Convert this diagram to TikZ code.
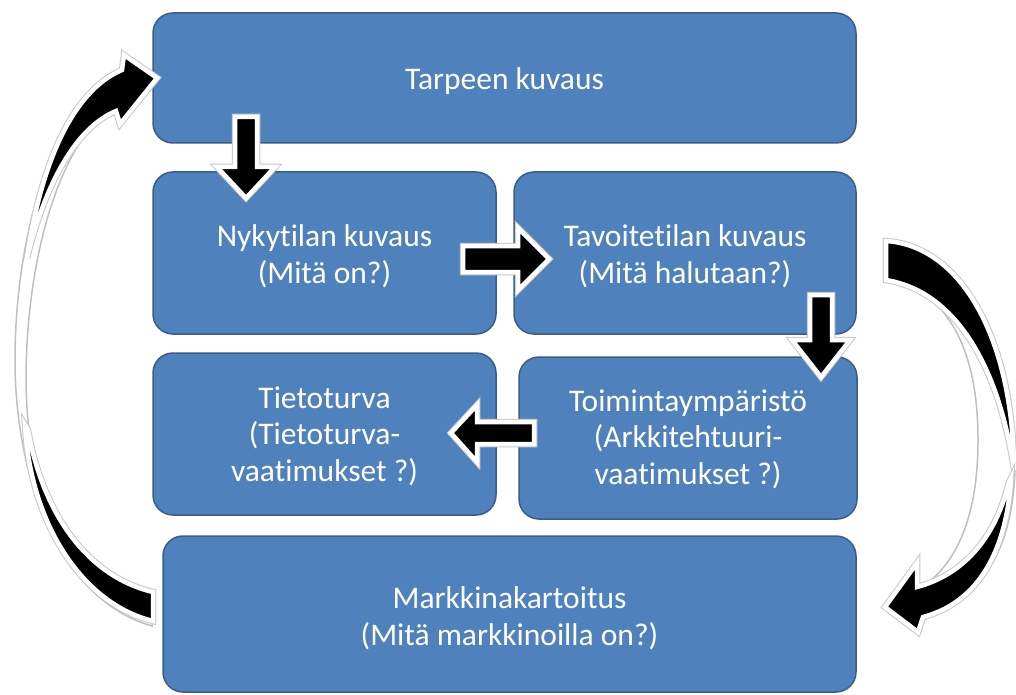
\documentclass[tikz,border=0pt]{standalone}
\usepackage{fontspec}
\setmainfont{Carlito}[Ligatures={NoCommon,NoContextual}]
\definecolor{boxblue}{HTML}{4F81BD}
\definecolor{boxedge}{HTML}{385D8A}
\begin{document}
\begin{tikzpicture}[x=1pt,y=-1pt,
  box/.style={draw=boxedge, line width=1.5pt, fill=boxblue, rounded corners=20pt, inner sep=0pt},
  txt/.style={text=white, font=\fontsize{31.5}{36.5}\selectfont, align=center, inner sep=0pt},
  blk/.style={fill=black, draw=white, line width=4.5pt, line join=miter,
    preaction={draw=black!22, line width=6.5pt}},
  backband/.style={fill=white, draw=black!25, line width=1.5pt}]
\useasboundingbox (0,0) rectangle (1016,695);

% boxes
\node[box, minimum width=703pt, minimum height=130pt] (tarpeen) at (504.5,78) {};
\node[box, minimum width=343pt, minimum height=162pt] (nyky) at (324.5,253) {};
\node[box, minimum width=342pt, minimum height=162pt] (tavoite) at (685,253) {};
\node[box, minimum width=343pt, minimum height=162pt] (tieto) at (324.5,434) {};
\node[box, minimum width=338pt, minimum height=162pt] (toiminta) at (688,438) {};
\node[box, minimum width=693pt, minimum height=156pt] (markkina) at (509.5,614) {};

% texts
\node[txt] (t1) at ([yshift=-3pt]tarpeen.center) {Tarpeen kuvaus};
\node[txt] (t2) at ([yshift=-3pt]nyky.center) {Nykytilan kuvaus\\(Mitä on?)};
\node[txt] (t3) at ([yshift=-3pt]tavoite.center) {Tavoitetilan kuvaus\\(Mitä halutaan?)};
\node[txt] (t4) at ([yshift=-2pt]tieto.center) {Tietoturva\\(Tietoturva-\\vaatimukset ?)};
\node[txt] (t5) at ([yshift=-1pt]toiminta.center) {Toimintaympäristö\\(Arkkitehtuuri-\\vaatimukset ?)};
\node[txt] (t6) at ([yshift=-4pt]markkina.center) {Markkinakartoitus\\(Mitä markkinoilla on?)};

% straight block arrows
\draw[blk] (235,117) -- (257,117) -- (257,167) -- (275,167) -- (246,198) -- (217,167) -- (235,167) -- cycle;
\draw[blk] (463,246) -- (518,246) -- (518,228) -- (549,259) -- (518,290) -- (518,272) -- (463,272) -- cycle;
\draw[blk] (810,295) -- (832,295) -- (832,340) -- (850,340) -- (821,377) -- (792,340) -- (810,340) -- cycle;
\draw[blk] (534,422) -- (477,422) -- (477,405) -- (451,433) -- (477,462) -- (477,444) -- (534,444) -- cycle;

% left curved arrow (bottom box -> top box)
\draw[backband] (110,74) .. controls (40,130) and (15,260) .. (15,360)
  .. controls (15,480) and (60,600) .. (152,626) -- (152,615)
  .. controls (70,595) and (27,500) .. (26,380)
  .. controls (26,280) and (50,150) .. (118,100) -- cycle;
\draw[blk] (122,70) .. controls (70,92) and (40,170) .. (27,258)
  .. controls (45,185) and (75,128) .. (116,111) -- (120,124) -- (157,78) -- (124,55) -- cycle;
\draw[blk] (25,425) .. controls (30,520) and (80,603) .. (153,621) -- (153,592)
  .. controls (85,576) and (42,510) .. (28,430) -- cycle;

% right curved arrow (top right -> bottom box)
\draw[backband] (887,278) .. controls (960,295) and (978,370) .. (978,440)
  .. controls (978,510) and (960,565) .. (917,590) -- (922,618)
  .. controls (975,600) and (1012,560) .. (1015,470)
  .. controls (1016,360) and (970,250) .. (887,240) -- cycle;
\draw[blk] (886,241) .. controls (962,246) and (1013,340) .. (1014,470)
  .. controls (1002,385) and (965,293) .. (886,280) -- cycle;
\draw[blk] (1011,478) .. controls (1006,560) and (972,604) .. (923,617) -- (918,632)
  -- (885,607) -- (917,563) -- (917,587) .. controls (962,575) and (995,540) .. (1009,482) -- cycle;
\end{tikzpicture}
\end{document}
